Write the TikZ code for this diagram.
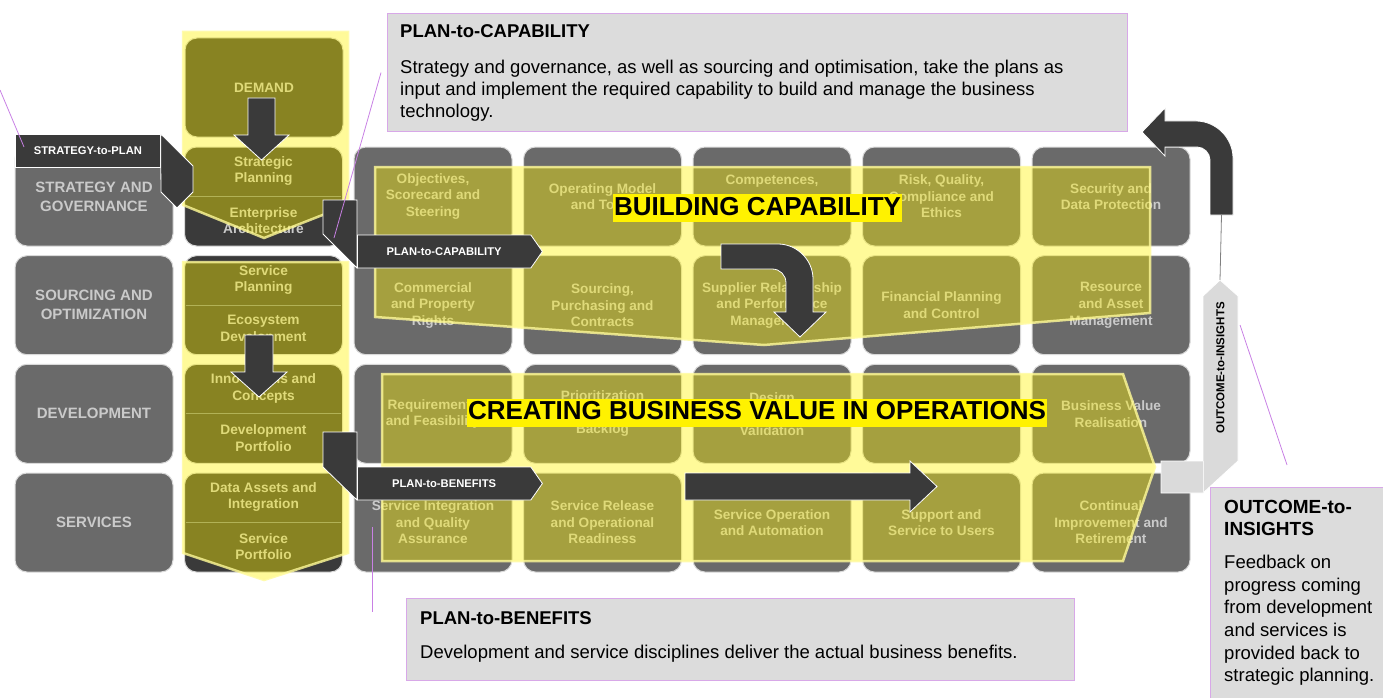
\documentclass[tikz,border=0pt]{standalone}
\usepackage{fontspec}
\setmainfont{Liberation Sans}
\usetikzlibrary{shapes.symbols,positioning,calc}

\definecolor{cellgrey}{RGB}{106,106,106}
\definecolor{celltext}{RGB}{202,202,202}
\definecolor{darkfill}{RGB}{58,58,58}
\definecolor{notegrey}{RGB}{220,220,220}
\definecolor{noteline}{RGB}{216,168,232}
\definecolor{leadpurple}{RGB}{200,128,228}
\definecolor{sepolive}{RGB}{178,178,86}
\definecolor{oigrey}{RGB}{218,218,218}

\newcommand\fsz[2]{\fontsize{#1}{#2}\selectfont}

\tikzset{
  gridcell/.style={rectangle,rounded corners=12pt,fill=cellgrey,draw=white!85!black,line width=1pt,
    minimum width=158pt,minimum height=99pt,inner sep=0pt,align=center,text=celltext,
    font=\fsz{13.6}{16.6}\bfseries},
  rowcell/.style={gridcell,font=\fsz{15}{19}\bfseries},
  plancell/.style={gridcell,fill=darkfill},
  plantext/.style={align=center,inner sep=0pt,text=celltext,font=\fsz{13.7}{16.5}\bfseries},
  hilite/.style={fill=yellow,fill opacity=0.4,draw=yellow!40!white,draw opacity=0.8,line width=2.5pt},
  blockarrow/.style={fill=darkfill,draw=white,line width=0.8pt,line join=miter},
  flowtag/.style={signal,signal to=east,signal pointer angle=110,fill=darkfill,draw=white,line width=0.8pt,
    text=white,font=\fsz{11.2}{13}\bfseries,minimum width=185pt,minimum height=33pt,inner sep=0pt},
  banner/.style={fill=yellow,text=black,font=\fsz{26}{28}\bfseries,inner xsep=1pt,inner ysep=2pt,
    text height=19pt,text depth=5pt},
  notebox/.style={rectangle,fill=notegrey,draw=noteline,line width=1.2pt,anchor=north west,inner sep=0pt},
  notetitle/.style={anchor=north west,align=left,inner sep=0pt,font=\fsz{18.5}{22}\bfseries},
  notebody/.style={anchor=north west,align=left,inner sep=0pt,font=\fsz{18.5}{22}},
  leadline/.style={draw=leadpurple,line width=0.8pt}
}

\begin{document}
\begin{tikzpicture}[x=1pt,y=-1pt]
\useasboundingbox (0,0) rectangle (1383,698);

% row labels
\node[rowcell] (row-0) at (94,196.5) {STRATEGY AND\\GOVERNANCE};
\node[rowcell] (row-1) at (94,305.2) {SOURCING AND\\OPTIMIZATION};
\node[rowcell] (row-2) at (94,413.8) {DEVELOPMENT};
\node[rowcell] (row-3) at (94,522.5) {SERVICES};

% planning column
\node[plancell] (demand) at (264,87.5) {DEMAND};
\foreach \j in {0,...,3}
  \node[plancell] (plan-\j) at (263.5,{196.5+108.67*\j}) {};
\foreach \j/\upper/\lower in {0/{Strategic\\Planning}/{Enterprise\\Architecture},
    1/{Service\\Planning}/{Ecosystem\\Development},
    2/{Innovations and\\Concepts}/{Development\\Portfolio},
    3/{Data Assets and\\Integration}/{Service\\Portfolio}}{
  \node[plantext] (plan-\j-a) at (263.5,{171.2+108.67*\j}) {\upper};
  \node[plantext] (plan-\j-b) at (263.5,{220.8+108.67*\j}) {\lower};
}
\path[hilite] (183,32) -- (348,32) -- (348,205) -- (264,238) -- (183,205) -- cycle;
\path[hilite] (183,262) -- (348,262) -- (348,553) -- (264,580) -- (183,553) -- cycle;
\foreach \j in {0,...,3}
  \draw[sepolive,line width=0.8pt] ([xshift=2pt]plan-\j.west) -- ([xshift=-2pt]plan-\j.east);

% disciplines
\foreach \i/\j/\txt in {
  2/0/{Objectives,\\Scorecard and\\Steering},
  3/0/{Operating Model\\and Tools},
  4/0/{Competences,\\\mbox{}\\\mbox{}},
  5/0/{Risk, Quality,\\Compliance and\\Ethics},
  6/0/{Security and\\Data Protection},
  2/1/{Commercial\\and Property\\Rights},
  3/1/{Sourcing,\\Purchasing and\\Contracts},
  4/1/{Supplier Relationship\\and Performance\\Management},
  5/1/{Financial Planning\\and Control},
  6/1/{Resource\\and Asset\\Management},
  2/2/{Requirements\\and Feasibility},
  3/2/{Prioritization\\\mbox{}\\Backlog},
  4/2/{Design\\\mbox{}\\Validation},
  5/2/{},
  6/2/{Business Value\\Realisation},
  2/3/{Service Integration\\and Quality\\Assurance},
  3/3/{Service Release\\and Operational\\Readiness},
  4/3/{Service Operation\\and Automation},
  5/3/{Support and\\Service to Users},
  6/3/{Continual\\Improvement and\\Retirement}}
  \node[gridcell] (cell-\i-\j) at ({94+169.5*\i},{196.5+108.67*\j}) {\txt};

% highlighted flows
\path[hilite] (375,167) -- (1150,167) -- (1150,313) -- (764,345) -- (375,317) -- cycle;
\path[hilite] (382,374) -- (1123,374) -- (1155,467) -- (1123,561) -- (382,561) -- cycle;

% block arrows
\path[blockarrow] (248,98) -- (275,98) -- (275,135) -- (289,135) -- (261.5,160) -- (234,135) -- (248,135) -- cycle;
\path[blockarrow] (245,335) -- (273,335) -- (273,372) -- (287,372) -- (259,397) -- (231,372) -- (245,372) -- cycle;
\path[blockarrow] (721,244) -- (778,244) .. controls (797,244) and (813,260) .. (813,279) -- (813,312) -- (826,312)
  -- (800,337) -- (774,312) -- (786,312) -- (786,283) .. controls (786,275) and (780,269) .. (772,269) -- (721,269) -- cycle;
\path[blockarrow] (685,473) -- (910,473) -- (910,461) -- (937,486.5) -- (910,512) -- (910,500) -- (685,500) -- cycle;
\path[blockarrow] (1210,215) -- (1233,215) -- (1233,158) .. controls (1233,138) and (1216,121) .. (1196,121) -- (1165,121)
  -- (1165,108) -- (1142,132) -- (1165,156) -- (1165,147) -- (1197,147) .. controls (1204,147) and (1210,153) .. (1210,160) -- cycle;
\coordinate (fb-foot) at (1221.5,215);

% value streams
\node[rectangle,fill=darkfill,draw=white,line width=0.8pt,text=white,font=\fsz{11.2}{13}\bfseries,
  anchor=north west,minimum width=145pt,minimum height=33pt,inner sep=0pt] (s2p) at (15,134) {STRATEGY-to-PLAN};
\path[blockarrow] (s2p.north east) -- (193,166) -- (193,192) -- (177,208) -- (161,192) -- (s2p.south east) -- cycle;
\path[blockarrow] (323,200) -- (357,200) -- (357,268) -- (323,234) -- cycle;
\node[flowtag,anchor=west] (p2c) at (357,251.5) {PLAN-to-CAPABILITY};
\path[blockarrow] (323,432) -- (357,432) -- (357,500) -- (323,467) -- cycle;
\node[flowtag,anchor=west] (p2b) at (357,483.5) {PLAN-to-BENEFITS};

\path[fill=oigrey,draw=white,line width=0.8pt] (1161,461) -- (1203,461) -- (1203,296) -- (1220,280) coordinate (oi-tip)
  -- (1238,296) -- (1238,461) -- (1203,493) -- (1161,493) -- cycle;
\draw[white!70!oigrey,line width=0.8pt] (1203,461) -- (1203,493);
\node[rotate=90,inner sep=0pt,font=\fsz{11.5}{13}\bfseries] (oi-text) at (1220.5,368) {OUTCOME-to-INSIGHTS};
\draw[gray,line width=0.8pt] (fb-foot) -- (oi-tip);

% banners
\node[banner] (build) at (757.5,208) {BUILDING CAPABILITY};
\node[banner] (create) at (757,412.5) {CREATING BUSINESS VALUE IN OPERATIONS};

% notes
\node[notebox,minimum width=740pt,minimum height=118pt] (p2c-note) at (387,13) {};
\node[notetitle] (p2c-title) at ([shift={(13,11.3)}]p2c-note.north west) {PLAN-to-CAPABILITY};
\node[notebody] (p2c-body) at ([shift={(13,47)}]p2c-note.north west)
  {Strategy and governance, as well as sourcing and optimisation, take the plans as\\
   input and implement the required capability to build and manage the business\\
   technology.};

\node[notebox,minimum width=668pt,minimum height=82pt] (p2b-note) at (406,598) {};
\node[notetitle] (p2b-title) at ([shift={(14,13)}]p2b-note.north west) {PLAN-to-BENEFITS};
\node[notebody] (p2b-body) at ([shift={(14,47)}]p2b-note.north west)
  {Development and service disciplines deliver the actual business benefits.};

\node[notebox,minimum width=200pt,minimum height=240pt] (oi-note) at (1210,487) {};
\node[notetitle,font=\fsz{19}{22}\bfseries] (oi-title) at ([shift={(14,13)}]oi-note.north west) {OUTCOME-to-\\INSIGHTS};
\node[notebody,font=\fsz{18.5}{22.6}] (oi-body) at ([shift={(14,68)}]oi-note.north west)
  {Feedback on\\progress coming\\from development\\and services is\\provided back to\\strategic planning.};

% leader lines
\coordinate (s2p-from) at (0,90);
\coordinate (s2p-to) at (24,147);
\coordinate (p2c-to) at (334,238);
\coordinate (p2b-from) at (372,527);
\coordinate (p2b-to) at (372,612);
\coordinate (oi-from) at (1240,325);
\coordinate (oi-to) at (1287,465);
\draw[leadline] (s2p-from) -- (s2p-to);
\draw[leadline] ([xshift=-6pt]p2c-note.west) -- (p2c-to);
\draw[leadline] (p2b-from) -- (p2b-to);
\draw[leadline] (oi-from) -- (oi-to);
\end{tikzpicture}
\end{document}
